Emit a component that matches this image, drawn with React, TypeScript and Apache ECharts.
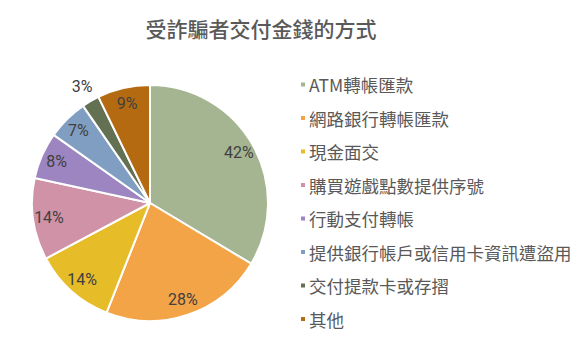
import React, { useEffect, useRef } from "react";
import * as echarts from "echarts";

const titleText = "受詐騙者交付金錢的方式";
const categories = [
  "ATM轉帳匯款",
  "網路銀行轉帳匯款",
  "現金面交",
  "購買遊戲點數提供序號",
  "行動支付轉帳",
  "提供銀行帳戶或信用卡資訊遭盜用",
  "交付提款卡或存摺",
  "其他",
];
const values = [42, 28, 14, 14, 8, 7, 3, 9];
const colors = ["#A5B592", "#F3A447", "#E7BC29", "#D092A7", "#9C85C0", "#809EC2", "#637052", "#B46A10"];
const outsideLabelIndex = 6;

export default function App() {
  const ref = useRef<HTMLDivElement>(null);
  useEffect(() => {
    if (!ref.current) return;
    const chart = echarts.init(ref.current, null, { renderer: "svg" });
    const labelFont = "Roboto, 'Noto Sans', sans-serif";
    const data = categories.map((name, i) => ({
      name,
      value: values[i],
      itemStyle: { color: colors[i] },
    }));
    const labelData = (show: (i: number) => boolean) =>
      categories.map((name, i) => ({
        name,
        value: values[i],
        label: { show: show(i) },
      }));
    chart.setOption({
      animation: false,
      backgroundColor: "#ffffff",
      title: {
        text: titleText,
        left: 261,
        top: 17,
        padding: 0,
        textAlign: "center",
        textStyle: {
          fontFamily: "'Noto Sans CJK TC', sans-serif",
          fontSize: 21,
          fontWeight: 500,
          color: "#595959",
        },
      },
      legend: {
        orient: "vertical",
        left: 299,
        top: 74.5,
        padding: 0,
        icon: "rect",
        itemWidth: 6,
        itemHeight: 6,
        itemGap: 13.5,
        data: categories,
        textStyle: {
          fontFamily: "'Noto Sans CJK TC', sans-serif",
          fontSize: 17.5,
          lineHeight: 20,
          color: "#595959",
          padding: [0, 0, 0, -2],
        },
      },
      series: [
        {
          type: "pie",
          center: [150, 203],
          radius: [0, 118],
          startAngle: 90,
          clockwise: true,
          data,
          label: { show: false },
          labelLine: { show: false },
          itemStyle: { borderColor: "#ffffff", borderWidth: 2 },
          silent: true,
        },
        {
          type: "pie",
          center: [150, 203],
          radius: [80, 118],
          startAngle: 90,
          clockwise: true,
          data: labelData((i) => i !== outsideLabelIndex),
          legendHoverLink: false,
          itemStyle: { color: "transparent" },
          label: {
            position: "inside",
            formatter: "{c}%",
            fontFamily: labelFont,
            fontSize: 16,
            color: "#404040",
          },
          labelLine: { show: false },
          silent: true,
        },
        {
          type: "pie",
          center: [150, 203],
          radius: [120, 144],
          startAngle: 90,
          clockwise: true,
          data: labelData((i) => i === outsideLabelIndex),
          itemStyle: { color: "transparent" },
          label: {
            position: "inside",
            formatter: "{c}%",
            fontFamily: labelFont,
            fontSize: 16,
            color: "#404040",
          },
          labelLine: { show: false },
          silent: true,
        },
      ],
    });
    return () => chart.dispose();
  }, []);
  return <div ref={ref} style={{ width: 581, height: 360, margin: -8 }} />;
}
